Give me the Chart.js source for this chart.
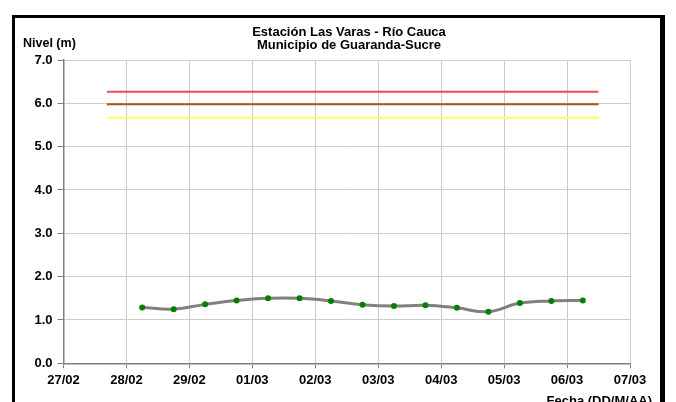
<!DOCTYPE html>
<html>
<head>
<meta charset="utf-8">
<script src="https://cdn.jsdelivr.net/npm/chart.js@4"></script>
<style>
  html, body { margin: 0; padding: 0; background: #fff; }
  canvas { display: block; }
</style>
</head>
<body>
<canvas id="chart" width="676" height="402"></canvas>
<script>
// Fechas del eje X (dia 0 = 27/02)
const dayLabels = ['27/02', '28/02', '29/02', '01/03', '02/03', '03/03', '04/03', '05/03', '06/03', '07/03'];

// Lecturas de nivel (dos por dia)
const sampleDays = [1.25, 1.75, 2.25, 2.75, 3.25, 3.75, 4.25, 4.75, 5.25, 5.75, 6.25, 6.75, 7.25, 7.75, 8.25];
const nivel = [1.29, 1.25, 1.36, 1.45, 1.50, 1.50, 1.44, 1.35, 1.32, 1.34, 1.28, 1.19, 1.39, 1.44, 1.45];

// Umbrales de alerta
const thresholdRange = [0.69, 8.5];
const alertaRoja = 6.27;
const alertaNaranja = 5.98;
const alertaAmarilla = 5.67;

const FONT = 'Liberation Sans, Arial, sans-serif';

const toPoints = (xs, ys) => xs.map((x, i) => ({ x, y: ys[i] }));
const hLine = (value) => thresholdRange.map((x) => ({ x, y: value }));

// Marco, titulo y rotulos de ejes
const decorations = {
  id: 'decorations',
  afterDraw: (chart) => {
    const ctx = chart.ctx;
    ctx.save();
    ctx.fillStyle = '#000';
    ctx.fillRect(12, 15, 650, 3);
    ctx.fillRect(12, 15, 3, 402);
    ctx.fillRect(660, 15, 5, 402);

    ctx.font = 'bold 13px ' + FONT;
    ctx.textAlign = 'center';
    ctx.textBaseline = 'alphabetic';
    ctx.fillText('Estación Las Varas - Río Cauca', 349, 36);
    ctx.fillText('Municipio de Guaranda-Sucre', 349, 49);

    ctx.font = 'bold 12.5px ' + FONT;
    ctx.textAlign = 'left';
    ctx.fillText('Nivel (m)', 23, 47);

    ctx.font = 'bold 13px ' + FONT;
    ctx.textAlign = 'right';
    ctx.fillText('Fecha (DD/M/AA)', 652, 405);
    ctx.restore();
  }
};

const ctx = document.getElementById('chart').getContext('2d');

new Chart(ctx, {
  type: 'scatter',
  data: {
    datasets: [
      {
        data: hLine(alertaRoja),
        showLine: true,
        borderColor: '#f24a4a',
        borderWidth: 2,
        pointRadius: 0
      },
      {
        data: hLine(alertaNaranja),
        showLine: true,
        borderColor: '#a0552a',
        borderWidth: 2,
        pointRadius: 0
      },
      {
        data: hLine(alertaAmarilla),
        showLine: true,
        borderColor: '#ffff55',
        borderWidth: 2,
        pointRadius: 0
      },
      {
        data: toPoints(sampleDays, nivel),
        showLine: true,
        borderColor: '#808080',
        borderWidth: 3,
        tension: 0.4,
        pointRadius: 3,
        pointBackgroundColor: '#008000',
        pointBorderColor: '#008000',
        pointBorderWidth: 0
      }
    ]
  },
  options: {
    responsive: false,
    animation: false,
    layout: {
      padding: { top: 60, right: 46, left: 0, bottom: 0 }
    },
    plugins: {
      legend: { display: false },
      tooltip: { enabled: false }
    },
    scales: {
      x: {
        type: 'linear',
        min: 0,
        max: 9,
        afterFit: (scale) => { scale.height = 38.7; },
        ticks: {
          stepSize: 1,
          autoSkip: false,
          maxRotation: 0,
          padding: 4,
          color: '#000',
          font: { family: FONT, size: 13, weight: 'bold' },
          callback: (v) => dayLabels[v]
        },
        grid: {
          color: '#cccccc',
          tickColor: '#808080',
          tickLength: 5
        },
        border: { color: '#808080', width: 1.5 }
      },
      y: {
        min: 0,
        max: 7,
        afterFit: (scale) => { scale.width = 63.5; },
        ticks: {
          stepSize: 1,
          padding: 5,
          color: '#000',
          font: { family: FONT, size: 13, weight: 'bold' },
          callback: (v) => v.toFixed(1)
        },
        grid: {
          color: '#cccccc',
          tickColor: '#808080',
          tickLength: 6
        },
        border: { color: '#808080', width: 1.5 }
      }
    }
  },
  plugins: [decorations]
});
</script>
</body>
</html>
